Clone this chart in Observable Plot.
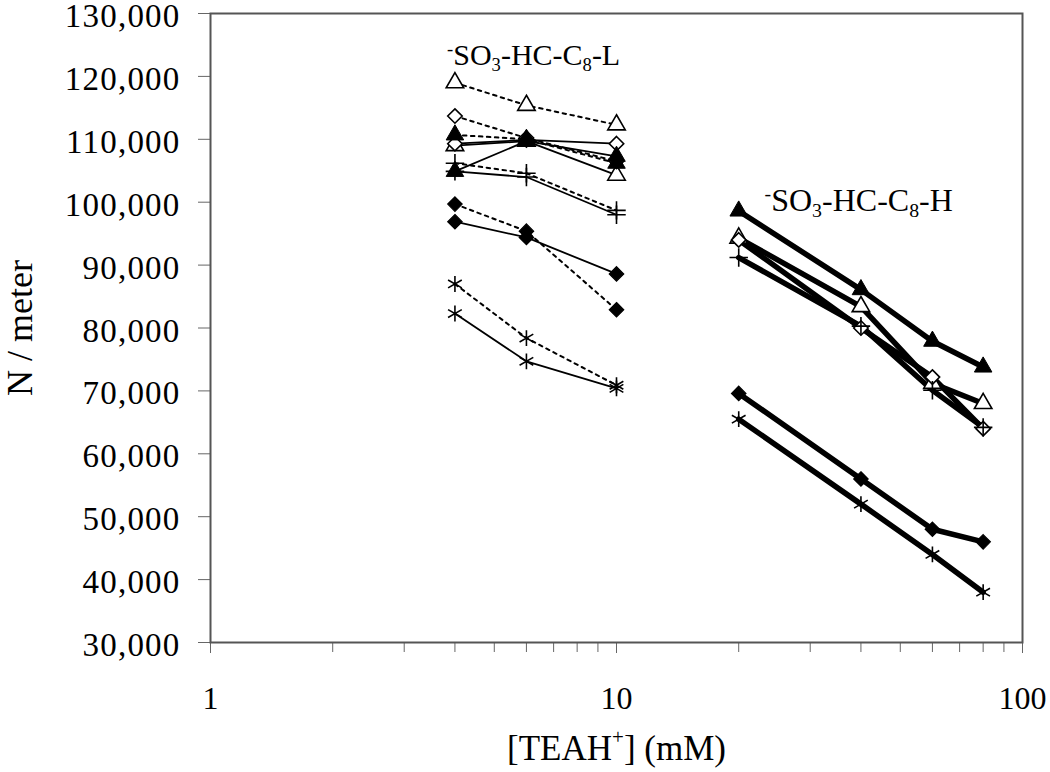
<!DOCTYPE html>
<html>
<head>
<meta charset="utf-8">
<script src="https://cdn.jsdelivr.net/npm/d3@7"></script>
<script src="https://cdn.jsdelivr.net/npm/@observablehq/plot@0.6"></script>
<style>
  html, body { margin: 0; padding: 0; background: #fff; }
  svg { display: block; }
</style>
</head>
<body>
<div id="chart"></div>
<script>
// ---- Data ----
const concL = [4, 6, 10];          // [TEAH+] mM, -SO3-HC-C8-L
const concH = [20, 40, 60, 80];    // [TEAH+] mM, -SO3-HC-C8-H

// -SO3-HC-C8-L, dotted-line set
const lDashedTriangleOpen   = [119000, 115400, 112300];
const lDashedDiamondOpen    = [113700, 110200, 106500];
const lDashedTriangleFilled = [110700, 110000, 106200];
const lDashedPlus           = [106200, 104600, 98700];
const lDashedDiamondFilled  = [99700, 95400, 82900];
const lDashedAsterisk       = [87000, 78400, 70900];

// -SO3-HC-C8-L, solid-line set
const lSolidTriangleOpen   = [109000, 109700, 104300];
const lSolidDiamondOpen    = [109300, 109900, 109300];
const lSolidTriangleFilled = [104900, 109700, 107300];
const lSolidPlus           = [104900, 104000, 98000];
const lSolidDiamondFilled  = [96900, 94400, 88600];
const lSolidAsterisk       = [82300, 74700, 70400];

// -SO3-HC-C8-H
const hTriangleFilled = [98600, 86100, 77900, 73800];
const hTriangleOpen   = [94300, 83400, 71200, 68000];
const hDiamondOpen    = [94000, 80000, 72200, 64000];
const hPlus           = [91200, 80300, 70100, 64200];
const hDiamondFilled  = [69600, 56000, 48000, 46000];
const hAsterisk       = [65500, 52000, 44000, 38000];

const yTicks = [30000, 40000, 50000, 60000, 70000, 80000, 90000, 100000, 110000, 120000, 130000];
const xTicks = [1, 10, 100];
const xMinorTicks = [2, 3, 4, 5, 6, 7, 8, 9, 20, 30, 40, 50, 60, 70, 80, 90];

const labelL = [{x: 6.25, y: 123300, text: "SO3-HC-C8-L"}];
const labelH = [{x: 39.5, y: 100200, text: "SO3-HC-C8-H"}];

// ---- Build long table ----
function series(id, group, marker, conc, values) {
  return values.map((v, i) => ({id, group, marker, conc: conc[i], n: v}));
}
const data = [
  ...series("Ld1", "Ldash", "triOpen", concL, lDashedTriangleOpen),
  ...series("Ld2", "Ldash", "diaOpen", concL, lDashedDiamondOpen),
  ...series("Ld3", "Ldash", "triFill", concL, lDashedTriangleFilled),
  ...series("Ld4", "Ldash", "plus", concL, lDashedPlus),
  ...series("Ld5", "Ldash", "diaFill", concL, lDashedDiamondFilled),
  ...series("Ld6", "Ldash", "aster", concL, lDashedAsterisk),
  ...series("Ls1", "Lsolid", "triOpen", concL, lSolidTriangleOpen),
  ...series("Ls2", "Lsolid", "diaOpen", concL, lSolidDiamondOpen),
  ...series("Ls3", "Lsolid", "triFill", concL, lSolidTriangleFilled),
  ...series("Ls4", "Lsolid", "plus", concL, lSolidPlus),
  ...series("Ls5", "Lsolid", "diaFill", concL, lSolidDiamondFilled),
  ...series("Ls6", "Lsolid", "aster", concL, lSolidAsterisk),
  ...series("H1", "H", "triFill", concH, hTriangleFilled),
  ...series("H2", "H", "triOpen", concH, hTriangleOpen),
  ...series("H3", "H", "diaOpen", concH, hDiamondOpen),
  ...series("H4", "H", "plus", concH, hPlus),
  ...series("H5", "H", "diaFill", concH, hDiamondFilled),
  ...series("H6", "H", "aster", concH, hAsterisk)
];
const byGroup = g => data.filter(d => d.group === g);
const byMarker = m => data.filter(d => d.marker === m);

const serif = "'Liberation Serif', 'Times New Roman', 'DejaVu Serif', serif";

const chart = Plot.plot({
  width: 1050,
  height: 772,
  marginLeft: 210,
  marginRight: 28,
  marginTop: 13,
  marginBottom: 130,
  style: {fontFamily: serif, background: "#fff", color: "#000"},
  x: {type: "log", domain: [1, 100]},
  y: {domain: [30000, 130000]},
  marks: [
    Plot.axisY({ticks: yTicks, tickFormat: d3.format(","), tickSize: 12, tickPadding: 18,
      fontSize: 33, stroke: "#666", label: null}),
    Plot.axisY({ticks: [], label: "N / meter", labelAnchor: "center", labelOffset: 204, labelArrow: "none",
      fontSize: 36}),
    Plot.axisX({ticks: xTicks, tickFormat: d => String(d), tickSize: 11, tickPadding: 33,
      fontSize: 32, stroke: "#666", label: null}),
    Plot.axisX({ticks: [], label: "[TEAH+] (mM)", labelAnchor: "center", labelOffset: 117, labelArrow: "none",
      fontSize: 35}),
    Plot.axisX({ticks: xMinorTicks, tickFormat: () => "", tickSize: 10, stroke: "#666", label: null}),
    Plot.frame({stroke: "#555", strokeWidth: 2}),
    Plot.line(byGroup("Ldash"), {x: "conc", y: "n", z: "id", stroke: "#000", strokeWidth: 2, strokeDasharray: "3.5,4.5"}),
    Plot.line(byGroup("Lsolid"), {x: "conc", y: "n", z: "id", stroke: "#000", strokeWidth: 1.8}),
    Plot.line(byGroup("H"), {x: "conc", y: "n", z: "id", stroke: "#000", strokeWidth: 5.5}),
    Plot.dot(byMarker("triOpen"), {x: "conc", y: "n", symbol: "triangle", r: 6.5, fill: "#fff", stroke: "#000", strokeWidth: 1.6}),
    Plot.dot(byMarker("diaOpen"), {x: "conc", y: "n", symbol: "diamond2", r: 6.5, fill: "#fff", stroke: "#000", strokeWidth: 1.6}),
    Plot.dot(byMarker("triFill"), {x: "conc", y: "n", symbol: "triangle", r: 6.5, fill: "#000", stroke: "#000", strokeWidth: 1}),
    Plot.dot(byMarker("diaFill"), {x: "conc", y: "n", symbol: "diamond2", r: 6.5, fill: "#000", stroke: "#000", strokeWidth: 1.2}),
    Plot.dot(byMarker("plus"), {x: "conc", y: "n", symbol: "plus", r: 6, fill: "none", stroke: "#000", strokeWidth: 1.6}),
    Plot.dot(byMarker("aster"), {x: "conc", y: "n", symbol: "asterisk", r: 7.5, fill: "none", stroke: "#000", strokeWidth: 1.6}),
    Plot.text(labelL, {x: "x", y: "y", text: "text", fontSize: 30, textAnchor: "middle", fill: "#000"}),
    Plot.text(labelH, {x: "x", y: "y", text: "text", fontSize: 32, textAnchor: "middle", fill: "#000"})
  ]
});
document.getElementById("chart").appendChild(chart);

const svg = d3.select(chart);
// nudge the y tick labels (text only) slightly down, as in the reference
svg.selectAll('g[aria-label="y-axis tick label"]').each(function() {
  const g = d3.select(this);
  const tr = g.attr("transform") || "";
  g.attr("transform", tr + " translate(0,3)").attr("letter-spacing", 1.2);
});

// Rich text (super/subscripts) for the annotations and x label
svg.selectAll("text").each(function() {
  const t = this.textContent;
  const el = d3.select(this);
  if (t === "SO3-HC-C8-L" || t === "SO3-HC-C8-H") {
    const last = t.slice(-1);
    el.text(null);
    el.append("tspan").attr("font-size", "0.62em").attr("dy", "-0.55em").text("-");
    el.append("tspan").attr("dy", "0.34em").text("SO");
    el.append("tspan").attr("font-size", "0.62em").attr("dy", "0.3em").text("3");
    el.append("tspan").attr("dy", "-0.19em").text("-HC-C");
    el.append("tspan").attr("font-size", "0.62em").attr("dy", "0.3em").text("8");
    el.append("tspan").attr("dy", "-0.19em").text("-" + last);
  } else if (t === "[TEAH+] (mM)") {
    el.text(null);
    el.append("tspan").text("[TEAH");
    el.append("tspan").attr("font-size", "0.6em").attr("dy", "-0.75em").text("+");
    el.append("tspan").attr("dy", "0.45em").text("] (mM)");
  }
});
</script>
</body>
</html>
